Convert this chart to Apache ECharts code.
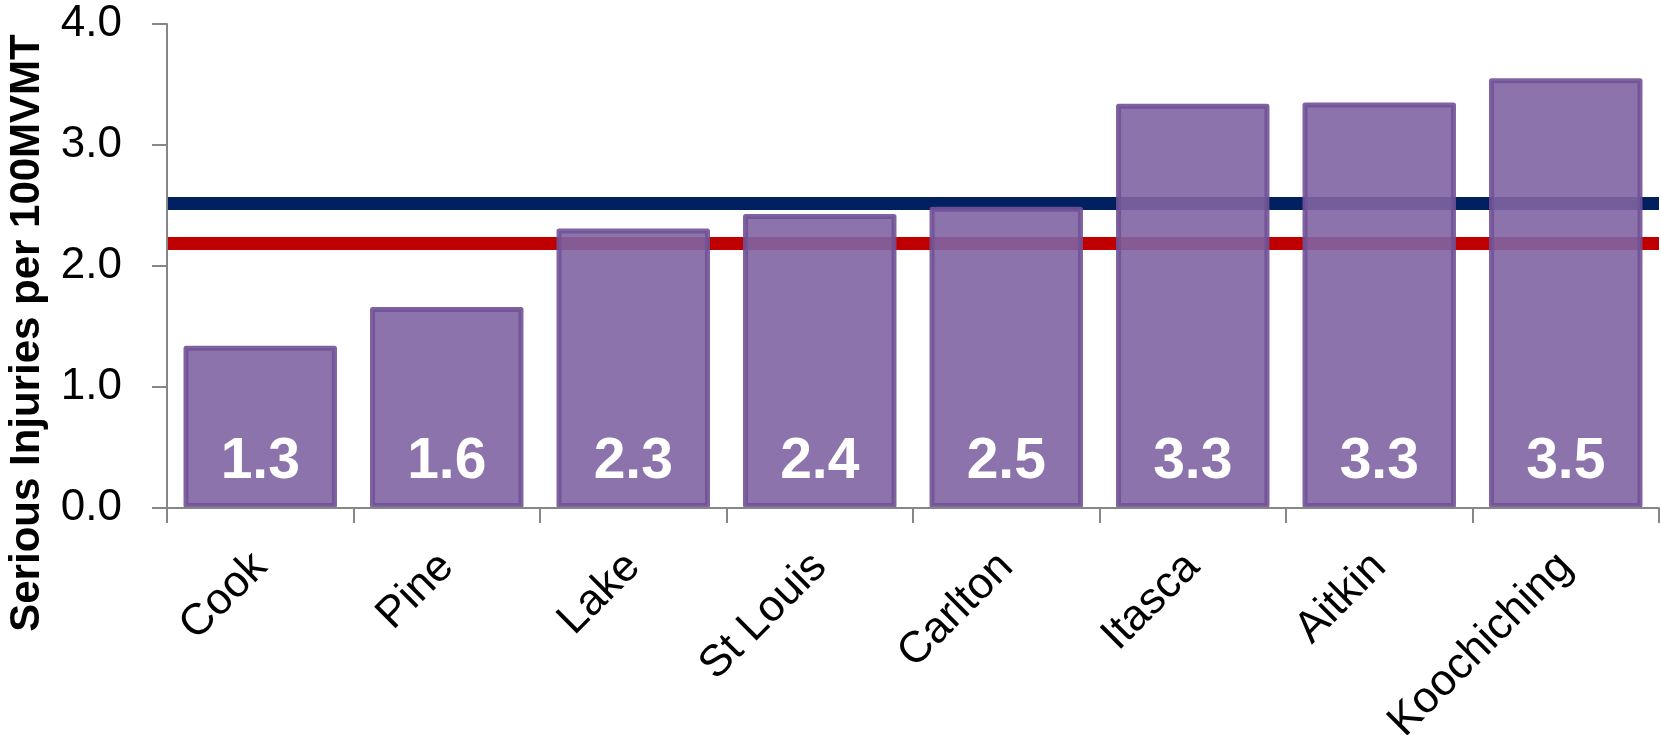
<!DOCTYPE html>
<html>
<head>
<meta charset="utf-8">
<script src="https://cdn.jsdelivr.net/npm/echarts@6/dist/echarts.min.js"></script>
<style>
  html, body { margin: 0; padding: 0; background: #ffffff; }
  #chart { width: 1661px; height: 735px; }
</style>
</head>
<body>
<div id="chart"></div>
<script>
// ---- data ----
var categories = ['Cook', 'Pine', 'Lake', 'St Louis', 'Carlton', 'Itasca', 'Aitkin', 'Koochiching'];
var injuryRates = [1.32, 1.64, 2.29, 2.41, 2.47, 3.32, 3.33, 3.53];
var referenceRateUpper = 2.525;
var referenceRateLower = 2.194;
var yTickValues = [0, 1, 2, 3, 4];
var yAxisTitle = 'Serious Injuries per 100MVMT';

var chart = echarts.init(document.getElementById('chart'), null, { renderer: 'canvas' });

var axisGray = '#868686';
var fontFam = '"Liberation Sans", Arial, sans-serif';
var barData = categories.map(function (c, i) { return [i, injuryRates[i]]; });

var option = {
  animation: false,
  backgroundColor: '#ffffff',
  grid: { left: 167, right: 2, top: 24, bottom: 227, containLabel: false, outerBoundsMode: 'none' },
  xAxis: {
    type: 'category',
    data: categories,
    boundaryGap: true,
    z: 20,
    axisLine: { show: true, lineStyle: { color: axisGray, width: 2 } },
    axisTick: { show: true, length: 15, lineStyle: { color: axisGray, width: 2 } },
    axisLabel: {
      rotate: 45,
      margin: 52,
      interval: 0,
      color: '#000000',
      fontSize: 44,
      fontFamily: fontFam
    },
    splitLine: { show: false }
  },
  yAxis: {
    type: 'value',
    min: yTickValues[0],
    max: yTickValues[yTickValues.length - 1],
    interval: 1,
    z: 20,
    axisLine: { show: true, lineStyle: { color: axisGray, width: 2 } },
    axisTick: { show: true, length: 15, lineStyle: { color: axisGray, width: 2 } },
    axisLabel: {
      margin: 45,
      color: '#000000',
      fontSize: 44,
      fontFamily: fontFam,
      formatter: function (v) { return v.toFixed(1); }
    },
    splitLine: { show: false }
  },
  graphic: [{
    type: 'text',
    x: 27,
    y: 333,
    rotation: Math.PI / 2,
    style: {
      text: yAxisTitle,
      font: 'bold 42px ' + fontFam,
      fill: '#000000',
      textAlign: 'center',
      textVerticalAlign: 'middle'
    }
  }],
  series: [
    {
      type: 'line',
      data: [],
      silent: true,
      markLine: {
        silent: true,
        symbol: 'none',
        label: { show: false },
        emphasis: { disabled: true },
        data: [
          { yAxis: referenceRateUpper, lineStyle: { color: '#002060', width: 13, type: 'solid' } },
          { yAxis: referenceRateLower, lineStyle: { color: '#c00000', width: 13, type: 'solid' } }
        ]
      }
    },
    {
      type: 'custom',
      z: 10,
      silent: true,
      data: barData,
      encode: { x: 0, y: 1 },
      renderItem: function (params, api) {
        var val = api.value(1);
        var top = api.coord([api.value(0), val]);
        var base = api.coord([api.value(0), 0]);
        var w = api.size([1, 0])[0] * 0.796;
        return {
          type: 'group',
          children: [
            {
              type: 'rect',
              shape: { x: top[0] - w / 2, y: top[1], width: w, height: base[1] - top[1] - 2.5 },
              style: {
                fill: 'rgba(128,100,162,0.9)',
                stroke: 'rgba(113,82,151,0.9)',
                lineWidth: 5,
                lineJoin: 'round'
              }
            },
            {
              type: 'text',
              x: top[0],
              y: base[1] - 17,
              style: {
                text: val.toFixed(1),
                fill: '#ffffff',
                font: 'bold 57px ' + fontFam,
                textAlign: 'center',
                textVerticalAlign: 'bottom'
              }
            }
          ]
        };
      }
    }
  ]
};

chart.setOption(option);
</script>
</body>
</html>
